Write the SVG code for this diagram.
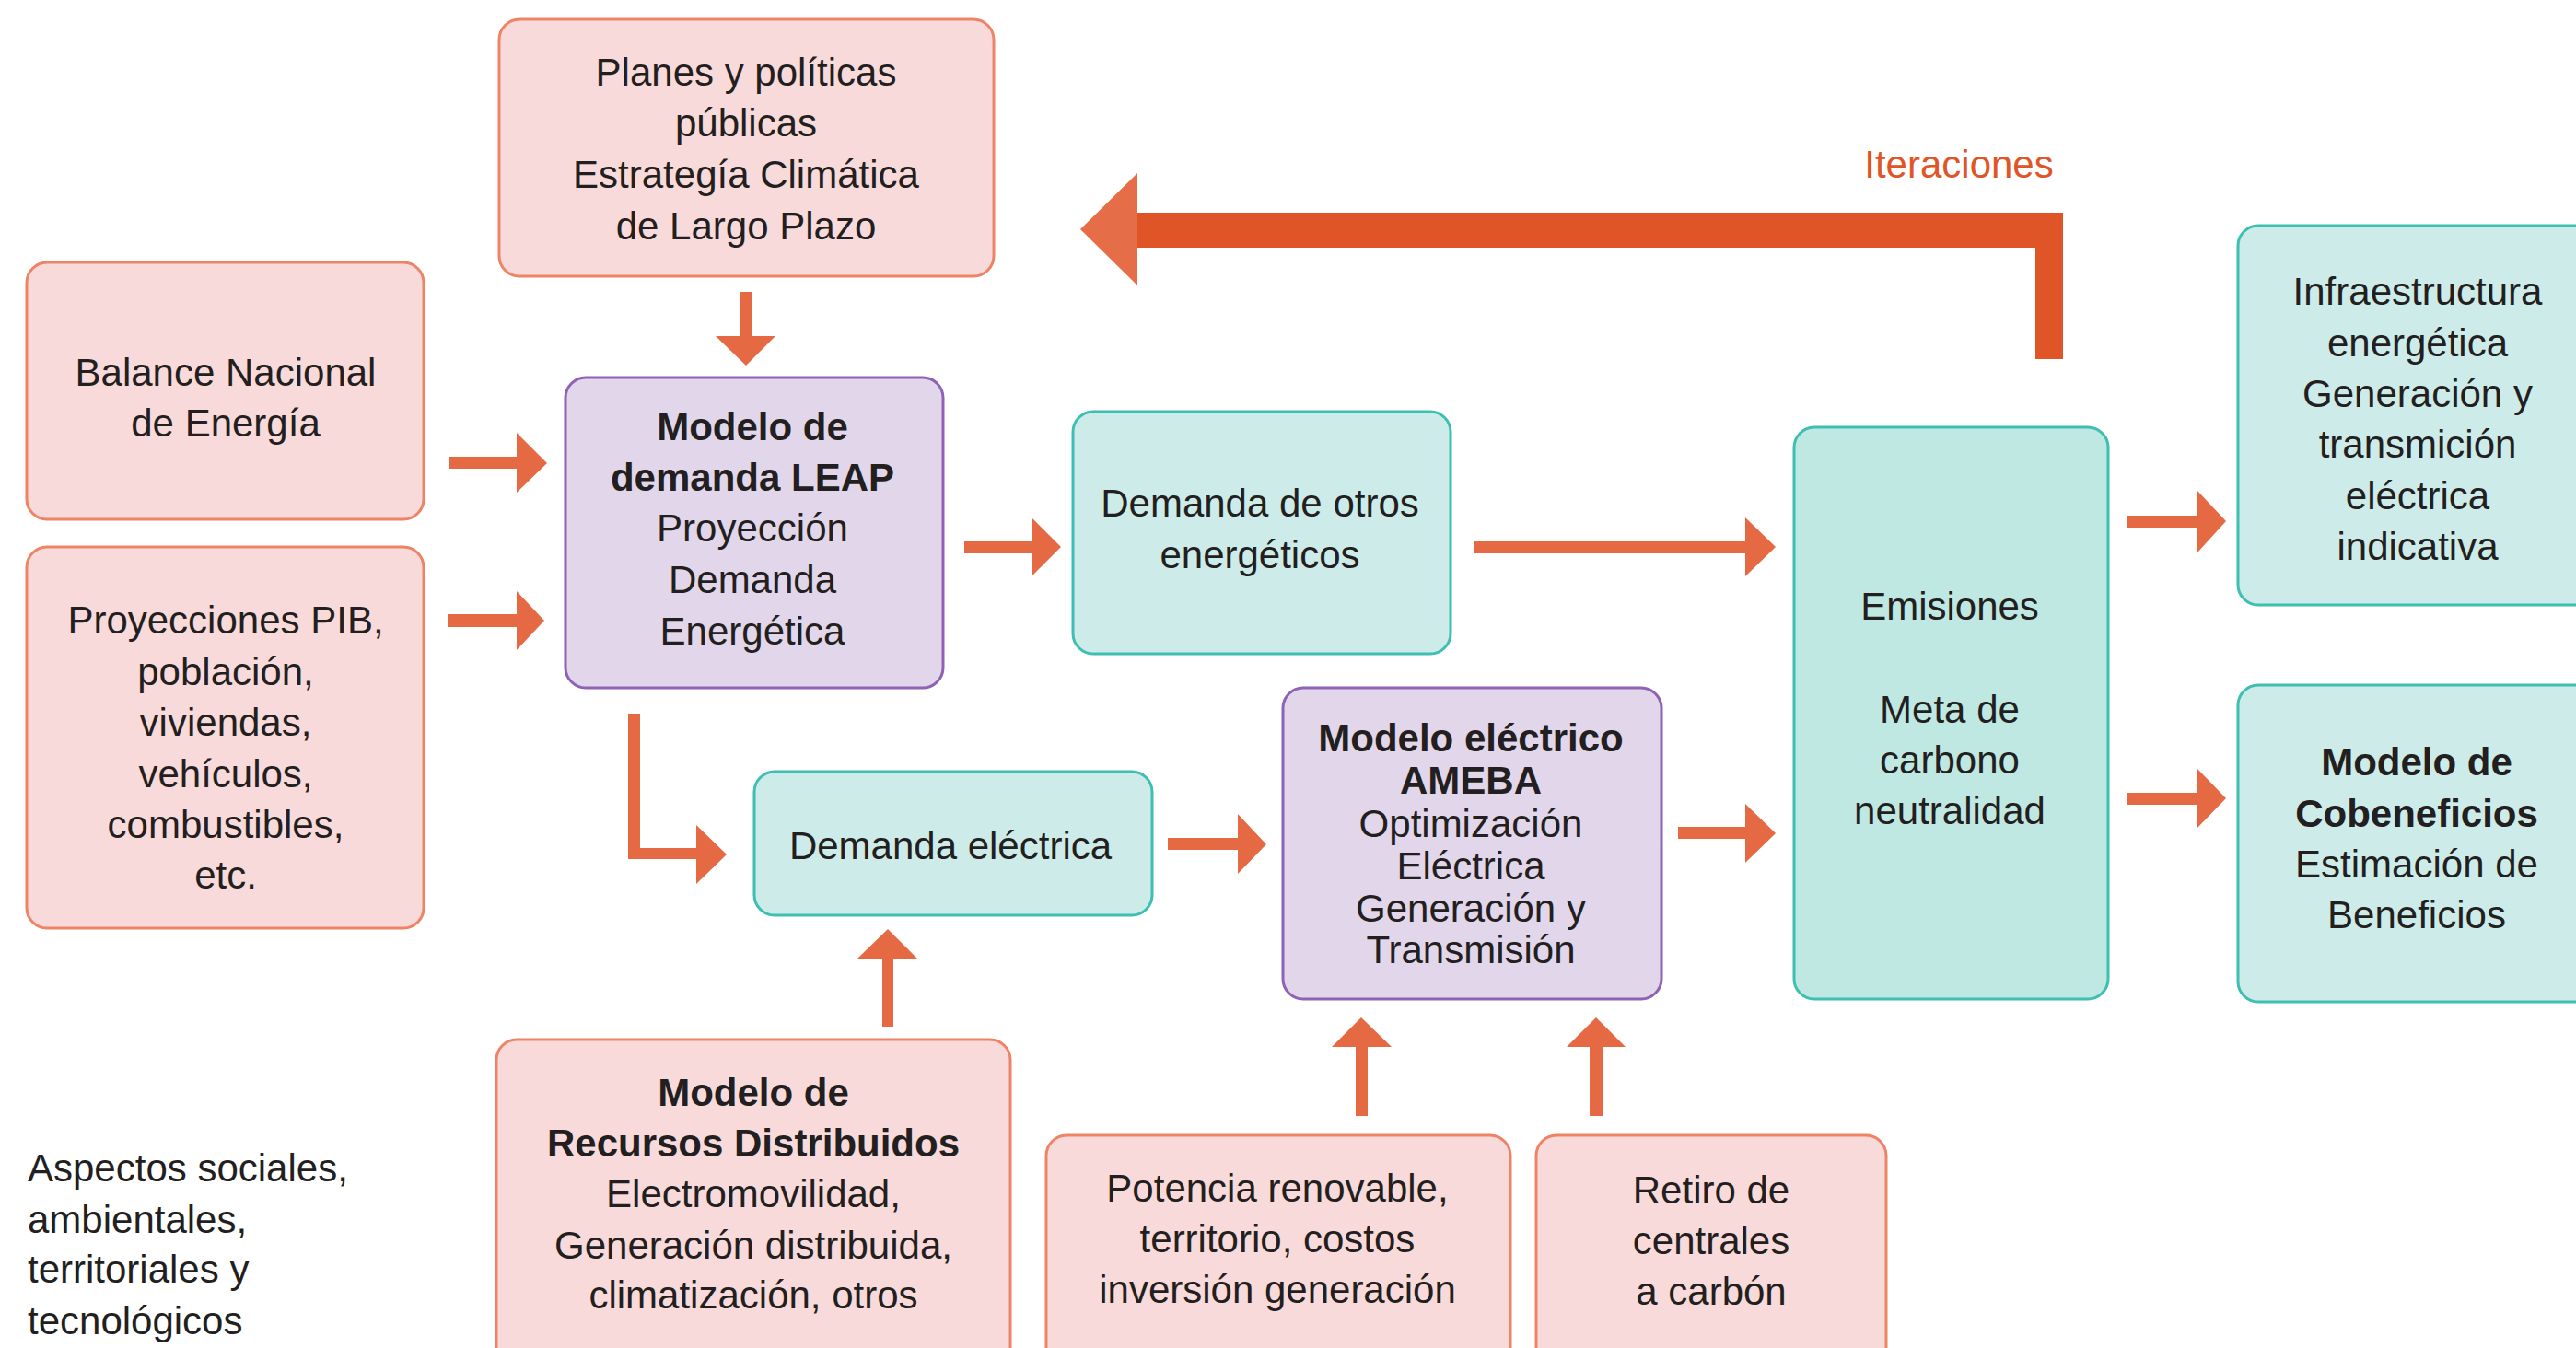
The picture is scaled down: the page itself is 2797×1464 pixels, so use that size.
<svg xmlns="http://www.w3.org/2000/svg" width="2797" height="1464" viewBox="0 0 2797 1464">
<style>
text{font-family:"Liberation Sans",Arial,sans-serif;font-size:42px;fill:#231f20;text-anchor:middle}
.b{font-weight:bold}
.pink{fill:#F9DADA;stroke:#EE8365;stroke-width:3}
.purp{fill:#E2D6EA;stroke:#8E63B5;stroke-width:3}
.teal{fill:#CDECE9;stroke:#3DBFB1;stroke-width:3}
.teal2{fill:#C0E8E3;stroke:#3DBFB1;stroke-width:3}
.arr{fill:#E56A44}
</style>
<rect width="2797" height="1464" fill="#ffffff"/>
<g id="connectors">
<!-- Planes -> LEAP -->
<polygon class="arr" points="804,317 817,317 817,365 842,365 810,397 777,365 804,365"/>
<!-- Balance -> LEAP -->
<polygon class="arr" points="488,496 561,496 561,470 594,503 561,535 561,509 488,509"/>
<!-- Proyecciones -> LEAP -->
<polygon class="arr" points="486,667 561,667 561,642 591,674 561,706 561,681 486,681"/>
<!-- LEAP -> Demanda otros -->
<polygon class="arr" points="1047,588 1120,588 1120,562 1152,594 1120,626 1120,601 1047,601"/>
<!-- Demanda otros -> Emisiones -->
<polygon class="arr" points="1601,588 1895,588 1895,562 1928,594 1895,626 1895,601 1601,601"/>
<!-- Emisiones -> Infraestructura -->
<polygon class="arr" points="2310,560 2386,560 2386,533 2417,566 2386,600 2386,573 2310,573"/>
<!-- Emisiones -> Cobeneficios -->
<polygon class="arr" points="2310,861 2386,861 2386,835 2417,867 2386,899 2386,874 2310,874"/>
<!-- AMEBA -> Emisiones -->
<polygon class="arr" points="1822,898 1895,898 1895,873 1928,905 1895,937 1895,911 1822,911"/>
<!-- Demanda electrica -> AMEBA -->
<polygon class="arr" points="1268,910 1344,910 1344,884 1375,917 1344,949 1344,923 1268,923"/>
<!-- LEAP -> Demanda electrica (elbow) -->
<polygon class="arr" points="682,775 695,775 695,921 756,921 756,896 789,928 756,960 756,933 682,933"/>
<!-- Recursos -> Demanda electrica -->
<polygon class="arr" points="958,1115 958,1041 931,1041 964,1009 996,1041 970,1041 970,1115"/>
<!-- Potencia -> AMEBA -->
<polygon class="arr" points="1472,1212 1472,1137 1446,1137 1478,1105 1511,1137 1485,1137 1485,1212"/>
<!-- Retiro -> AMEBA -->
<polygon class="arr" points="1726,1212 1726,1137 1701,1137 1733,1105 1765,1137 1740,1137 1740,1212"/>
<!-- Iteraciones -->
<polygon fill="#E05527" points="1224,231 2240,231 2240,390 2210,390 2210,269 1224,269"/>
<polygon fill="#E56D47" points="1173,249 1235,188 1235,310"/>
<text x="2127" y="193" style="fill:#E05527;font-size:42px">Iteraciones</text>
</g>
<g id="planes">
<rect class="pink" x="542" y="21" width="537" height="279" rx="22"/>
<text x="810" y="93">Planes y políticas</text>
<text x="810" y="148">públicas</text>
<text x="810" y="204">Estrategía Climática</text>
<text x="810" y="260">de Largo Plazo</text>
</g>
<g id="balance">
<rect class="pink" x="29" y="285" width="431" height="279" rx="22"/>
<text x="245" y="419">Balance Nacional</text>
<text x="245" y="474">de Energía</text>
</g>
<g id="proyecciones">
<rect class="pink" x="29" y="594" width="431" height="414" rx="22"/>
<text x="245" y="688">Proyecciones PIB,</text>
<text x="245" y="744">población,</text>
<text x="245" y="799">viviendas,</text>
<text x="245" y="855">vehículos,</text>
<text x="245" y="910">combustibles,</text>
<text x="245" y="965">etc.</text>
</g>
<g id="leap">
<rect class="purp" x="614" y="410" width="410" height="337" rx="22"/>
<text class="b" x="817" y="478">Modelo de</text>
<text class="b" x="817" y="533">demanda LEAP</text>
<text x="817" y="588">Proyección</text>
<text x="817" y="644">Demanda</text>
<text x="817" y="700">Energética</text>
</g>
<g id="demanda-otros">
<rect class="teal" x="1165" y="447" width="410" height="263" rx="22"/>
<text x="1368" y="561">Demanda de otros</text>
<text x="1368" y="617">energéticos</text>
</g>
<g id="emisiones">
<rect class="teal2" x="1948" y="464" width="341" height="621" rx="22"/>
<text x="2117" y="673">Emisiones</text>
<text x="2117" y="785">Meta de</text>
<text x="2117" y="840">carbono</text>
<text x="2117" y="895">neutralidad</text>
</g>
<g id="infraestructura">
<rect class="teal" x="2430" y="245" width="390" height="412" rx="22"/>
<text x="2625" y="331">Infraestructura</text>
<text x="2625" y="387">energética</text>
<text x="2625" y="442">Generación y</text>
<text x="2625" y="497">transmición</text>
<text x="2625" y="553">eléctrica</text>
<text x="2625" y="608">indicativa</text>
</g>
<g id="cobeneficios">
<rect class="teal" x="2430" y="744" width="390" height="344" rx="22"/>
<text class="b" x="2624" y="842">Modelo de</text>
<text class="b" x="2624" y="898">Cobeneficios</text>
<text x="2624" y="953">Estimación de</text>
<text x="2624" y="1008">Beneficios</text>
</g>
<g id="demanda-electrica">
<rect class="teal" x="819" y="838" width="432" height="156" rx="22"/>
<text x="1032" y="933">Demanda eléctrica</text>
</g>
<g id="ameba">
<rect class="purp" x="1393" y="747" width="411" height="338" rx="22"/>
<text class="b" x="1597" y="816">Modelo eléctrico</text>
<text class="b" x="1597" y="862">AMEBA</text>
<text x="1597" y="909">Optimización</text>
<text x="1597" y="955">Eléctrica</text>
<text x="1597" y="1001">Generación y</text>
<text x="1597" y="1046">Transmisión</text>
</g>
<g id="recursos">
<rect class="pink" x="539" y="1129" width="558" height="360" rx="22"/>
<text class="b" x="818" y="1201">Modelo de</text>
<text class="b" x="818" y="1256">Recursos Distribuidos</text>
<text x="818" y="1311">Electromovilidad,</text>
<text x="818" y="1367">Generación distribuida,</text>
<text x="818" y="1421">climatización, otros</text>
</g>
<g id="potencia">
<rect class="pink" x="1136" y="1233" width="504" height="260" rx="22"/>
<text x="1387" y="1305">Potencia renovable,</text>
<text x="1387" y="1360">territorio, costos</text>
<text x="1387" y="1415">inversión generación</text>
</g>
<g id="retiro">
<rect class="pink" x="1668" y="1233" width="380" height="260" rx="22"/>
<text x="1858" y="1307">Retiro de</text>
<text x="1858" y="1362">centrales</text>
<text x="1858" y="1417">a carbón</text>
</g>
<g id="aspectos">
<text x="30" y="1283" style="text-anchor:start">Aspectos sociales,</text>
<text x="30" y="1339" style="text-anchor:start">ambientales,</text>
<text x="30" y="1393" style="text-anchor:start">territoriales y</text>
<text x="30" y="1449" style="text-anchor:start">tecnológicos</text>
</g>
</svg>
